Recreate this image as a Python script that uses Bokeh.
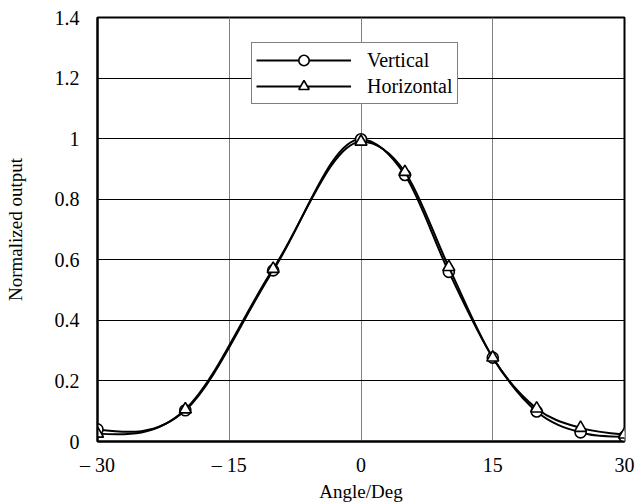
from bokeh.plotting import figure
from bokeh.models import Range1d, FixedTicker, Legend, LegendItem, ColumnDataSource
from bokeh.embed import file_html
from bokeh.resources import INLINE

# ---- data ----
angles = [-30, -20, -10, 0, 5, 10, 15, 20, 25, 30]
vertical = [0.040, 0.103, 0.565, 0.998, 0.880, 0.560, 0.277, 0.099, 0.030, 0.016]
horizontal = [0.026, 0.106, 0.570, 0.990, 0.890, 0.576, 0.277, 0.109, 0.045, 0.023]
series_names = ["Vertical", "Horizontal"]
x_ticks = [-30, -15, 0, 15, 30]
x_tick_labels = ["– 30", "– 15", "0", "15", "30"]
y_ticks = [0, 0.2, 0.4, 0.6, 0.8, 1.0, 1.2, 1.4]
y_tick_labels = ["0", "0.2", "0.4", "0.6", "0.8", "1", "1.2", "1.4"]

FONT = "Liberation Serif"


def smooth_segments(xs, ys):
    """Cubic Hermite (three-point derivative) drawn as Bezier segments: a smoothed line."""
    n = len(xs)
    h = [xs[i + 1] - xs[i] for i in range(n - 1)]
    dl = [(ys[i + 1] - ys[i]) / h[i] for i in range(n - 1)]
    m = [0.0] * n
    for i in range(1, n - 1):
        m[i] = (h[i] * dl[i - 1] + h[i - 1] * dl[i]) / (h[i - 1] + h[i])
    m[0] = (3 * dl[0] - m[1]) / 2.0
    m[-1] = (3 * dl[-1] - m[-2]) / 2.0
    d = dict(x0=[], y0=[], x1=[], y1=[], cx0=[], cy0=[], cx1=[], cy1=[])
    for i in range(n - 1):
        d["x0"].append(xs[i]); d["y0"].append(ys[i])
        d["x1"].append(xs[i + 1]); d["y1"].append(ys[i + 1])
        d["cx0"].append(xs[i] + h[i] / 3.0)
        d["cy0"].append(ys[i] + m[i] * h[i] / 3.0)
        d["cx1"].append(xs[i + 1] - h[i] / 3.0)
        d["cy1"].append(ys[i + 1] - m[i + 1] * h[i] / 3.0)
    return ColumnDataSource(d)


p = figure(width=644, height=504, output_backend="svg", toolbar_location=None,
           x_range=Range1d(-30, 30), y_range=Range1d(0, 1.4),
           min_border_left=97, min_border_right=20, min_border_top=17, min_border_bottom=62)
p.background_fill_color = "white"
p.border_fill_color = "white"
p.outline_line_color = "black"
p.outline_line_width = 2

# grid
p.xgrid.ticker = FixedTicker(ticks=x_ticks)
p.ygrid.ticker = FixedTicker(ticks=y_ticks)
p.xgrid.grid_line_color = "#808080"
p.xgrid.grid_line_width = 1
p.ygrid.grid_line_color = "black"
p.ygrid.grid_line_width = 1

# axes
p.xaxis.ticker = FixedTicker(ticks=x_ticks)
p.yaxis.ticker = FixedTicker(ticks=y_ticks)
p.xaxis.major_label_overrides = {t: l for t, l in zip(x_ticks, x_tick_labels)}
p.yaxis.major_label_overrides = {t: l for t, l in zip(y_ticks, y_tick_labels)}
for ax in (p.xaxis[0], p.yaxis[0]):
    ax.axis_line_color = "black"
    ax.axis_line_width = 2
    ax.major_tick_line_color = None
    ax.minor_tick_line_color = None
    ax.major_label_text_font = FONT
    ax.major_label_text_font_size = "20px"
    ax.major_label_text_color = "black"
    ax.axis_label_text_font = FONT
    ax.axis_label_text_font_size = "19px"
    ax.axis_label_text_font_style = "normal"
    ax.axis_label_text_color = "black"
p.xaxis.axis_label = "Angle/Deg"
p.yaxis.axis_label = "Normalized output"
p.xaxis.major_label_standoff = 6
p.xaxis.axis_label_standoff = 2
p.yaxis.major_label_standoff = 12
p.yaxis.axis_label_standoff = 26

nan = float("nan")
items = []
for name, vals, marker, msize in [(series_names[0], vertical, "circle", 11),
                                  (series_names[1], horizontal, "triangle", 12)]:
    src = smooth_segments(angles, vals)
    p.bezier(x0="x0", y0="y0", x1="x1", y1="y1", cx0="cx0", cy0="cy0",
             cx1="cx1", cy1="cy1", source=src, line_color="black", line_width=2)
    # legend-only line sample (no visible data)
    key = p.line(x=[nan, nan], y=[nan, nan], line_color="black", line_width=2)
    sc = p.scatter(x=angles, y=vals, marker=marker, size=msize,
                   fill_color="white", line_color="black", line_width=1.6)
    items.append(LegendItem(label=name, renderers=[key, sc]))

legend = Legend(items=items, location=(154, 337))
legend.border_line_color = "black"
legend.border_line_width = 1.5
legend.background_fill_color = "white"
legend.background_fill_alpha = 1
legend.label_text_font = FONT
legend.label_text_font_size = "20px"
legend.label_text_color = "black"
legend.glyph_width = 95
legend.glyph_height = 26
legend.label_height = 26
legend.label_standoff = 16
legend.padding = 4
legend.spacing = 0
legend.margin = 0
p.add_layout(legend, "center")

open("out.html", "w").write(file_html(p, INLINE))
